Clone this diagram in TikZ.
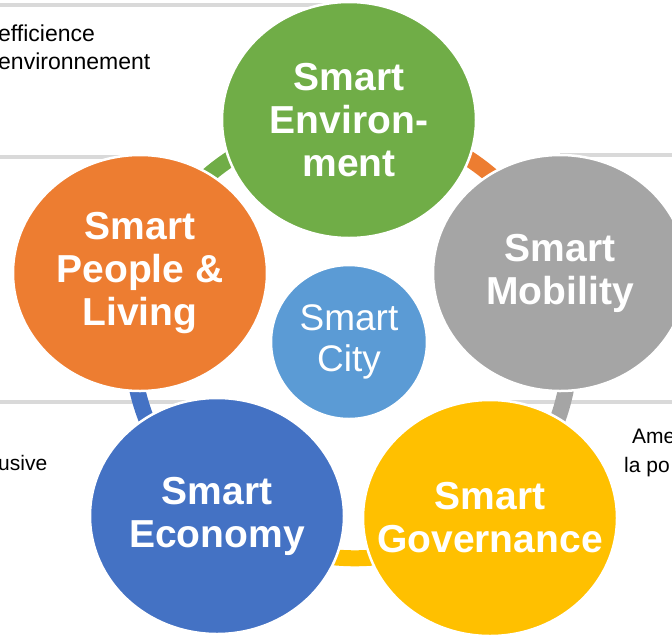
\documentclass[tikz,border=0pt]{standalone}
\usepackage{fontspec}
\setmainfont{Liberation Sans}
\usetikzlibrary{shapes.geometric}

\definecolor{envgreen}{HTML}{70AD47}
\definecolor{pplorange}{HTML}{ED7D31}
\definecolor{mobgray}{HTML}{A5A5A5}
\definecolor{ecoblue}{HTML}{4472C4}
\definecolor{govyellow}{HTML}{FFC000}
\definecolor{cityblue}{HTML}{5B9BD5}
\definecolor{rulegray}{HTML}{D9D9D9}

\pgfdeclarelayer{background}
\pgfsetlayers{background,main}

\begin{document}
\begin{tikzpicture}[x=1pt,y=-1pt,
    bubble/.style={ellipse, draw=white, line width=2.5pt, minimum width=254pt,
        minimum height=236pt, inner sep=0pt},
    bubbletext/.style={text=white, align=center, inner sep=0pt,
        font=\fontsize{39}{43}\selectfont\bfseries},
    ring/.style={line width=16pt},
    rule/.style={line width=4pt, color=rulegray},
    side/.style={anchor=base west, inner sep=0pt, font=\fontsize{21}{28}\selectfont}]

    \useasboundingbox (0,0) rectangle (672,635);

    % The five pillars
    \node[bubble, fill=envgreen, label={[bubbletext]center:{Smart\\Environ-\\ment}}] (env) at (349,120) {};
    \node[bubble, fill=pplorange, label={[bubbletext]center:{Smart\\People \&\\Living}}] (ppl) at (140,273) {};
    \node[bubble, fill=mobgray, label={[bubbletext]center:{Smart\\Mobility}}] (mob) at (560,273) {};
    \node[bubble, fill=ecoblue, label={[bubbletext]center:{Smart\\Economy}}] (eco) at (217,516) {};
    \node[bubble, fill=govyellow, label={[bubbletext]center:{Smart\\Governance}}] (gov) at (490,518) {};

    % Centre
    \node[ellipse, draw=white, line width=2.5pt, fill=cityblue, minimum width=156pt,
        minimum height=154pt, inner sep=0pt, text=white, align=center,
        font=\fontsize{37}{41}\selectfont] (city) at (349,342) {Smart\\City};

    % Side texts (cut by the frame)
    \node[side, font=\fontsize{23}{28}\selectfont] (envtxta) at (-2,41) {efficience};
    \node[side, font=\fontsize{23}{28}\selectfont] (envtxtb) at (-2,69) {environnement};
    \node[side] (ecotxt)  at (-2,470) {usive};
    \node[side] (mobtxta) at (632,443) {Ame};
    \node[side] (mobtxtb) at (624,472) {la po};

    \begin{pgfonlayer}{background}
        % Frames of the text boxes
        \draw[rule] (0,5) -- (345,5);
        \draw[rule] (0,157) -- (140,157);
        \draw[rule] (560,155) -- (672,155);
        \draw[rule] (0,402) -- (217,402);
        \draw[rule] (490,402) -- (672,402);

        % Ring between the pillars
        \draw[ring, color=envgreen]  (ppl.center) to[bend left=31] (env.center);
        \draw[ring, color=pplorange] (env.center) to[bend left=31] (mob.center);
        \draw[ring, color=mobgray]   (mob.center) to[bend left=31] (gov.center);
        \draw[ring, color=govyellow] (gov.center) to[bend left=31] (eco.center);
        \draw[ring, color=ecoblue]   (eco.center) to[bend left=31] (ppl.center);
    \end{pgfonlayer}

\end{tikzpicture}
\end{document}
